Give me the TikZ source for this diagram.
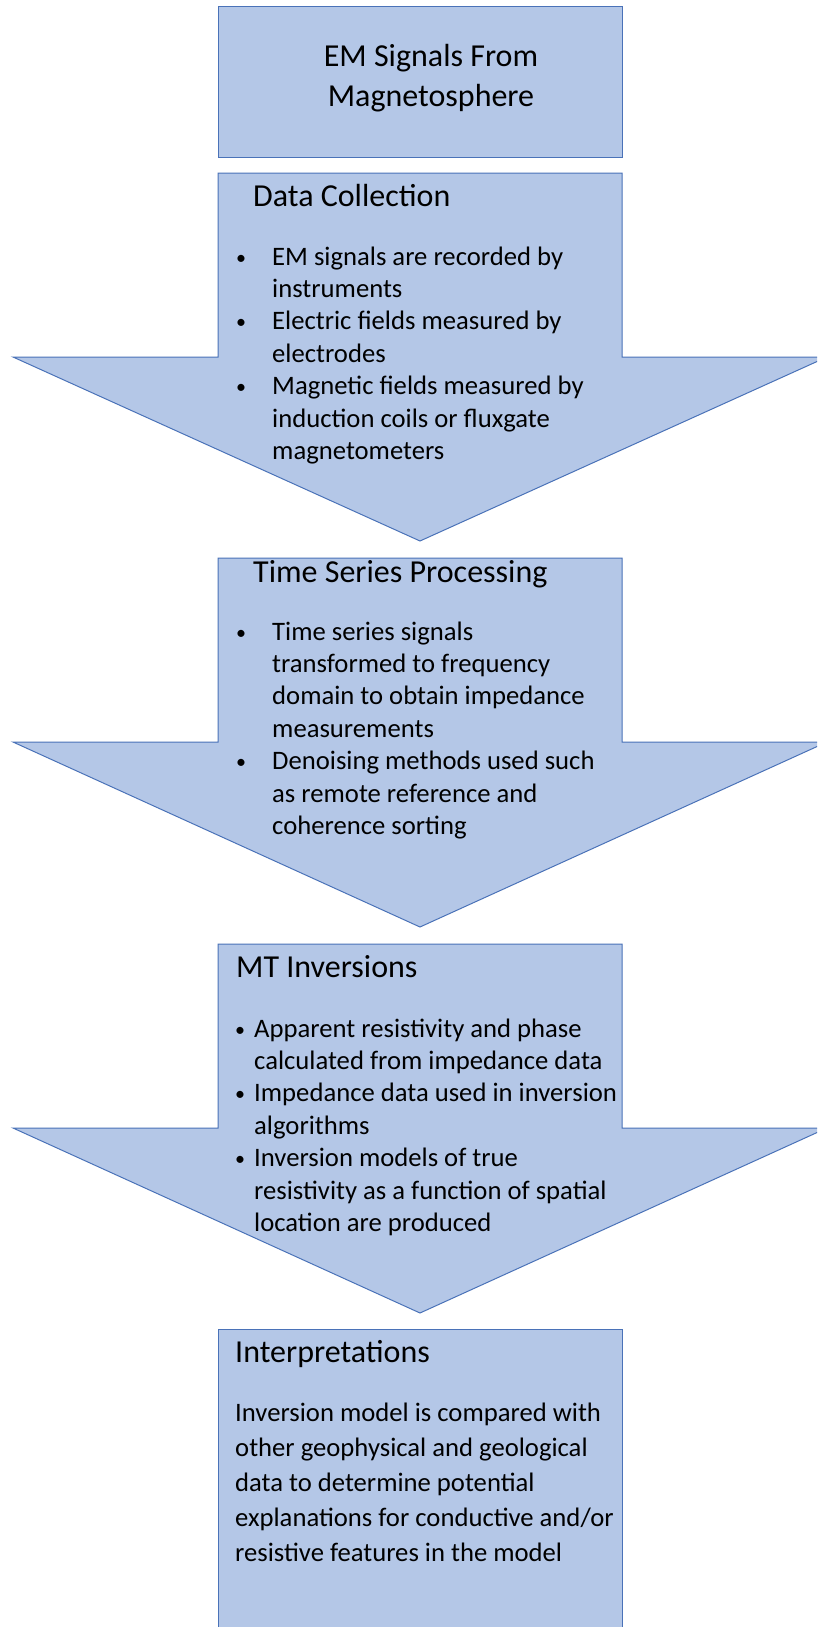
\documentclass[tikz,border=0pt]{standalone}
\usepackage{fontspec}
\setmainfont{Carlito}
\definecolor{boxfill}{HTML}{B4C7E7}
\definecolor{boxline}{HTML}{4A72B8}
\newlength\bulind
\newcommand\bitem[1]{\hbox{\makebox[\bulind][l]{\raisebox{1pt}{\fontsize{20}{20}\selectfont\textbullet}}#1}}
\newcommand\bcont[1]{\hbox{\hspace{\bulind}#1}}
\tikzset{
  shapebox/.style={fill=boxfill,draw=boxline,line width=1pt,line join=miter},
  titletext/.style={inner sep=0pt,anchor=base west,font=\fontsize{32}{39}\selectfont},
  bodytext/.style={inner sep=0pt,anchor=base west,font=\fontsize{26.67}{32.5}\selectfont},
}
\begin{document}
\begin{tikzpicture}[x=1pt,y=-1pt]
\useasboundingbox (0,0) rectangle (817,1627);
\clip (0,0) rectangle (817,1627);
\fill[white] (0,0) rectangle (817,1627);

% Box 1
\draw[shapebox] (218,7) rectangle (622,157);
\node[inner sep=0pt,anchor=base,font=\fontsize{32}{40}\selectfont] (t1) at (431,67)
  {\vtop{\baselineskip=40pt\halign{\hfil#\hfil\cr EM Signals From\cr Magnetosphere\cr}}};

% Arrow 1
\draw[shapebox] (218,173) -- (622,173) -- (622,357) -- (827,357) -- (420,541)
  -- (13,357) -- (218,357) -- cycle;
\node[titletext] (h2) at (253,206) {Data Collection};
\node[bodytext] (b2) at (236,265) {\setlength\bulind{36pt}\vtop{\baselineskip=32.4pt
  \bitem{EM signals are recorded by}
  \bcont{instruments}
  \bitem{Electric fields measured by}
  \bcont{electrodes}
  \bitem{Magnetic fields measured by}
  \bcont{induction coils or fluxgate}
  \bcont{magnetometers}}};

% Arrow 2
\draw[shapebox] (218,558) -- (622,558) -- (622,742) -- (827,742) -- (420,927)
  -- (13,742) -- (218,742) -- cycle;
\node[titletext] (h3) at (253,582) {Time Series Processing};
\node[bodytext] (b3) at (236,640) {\setlength\bulind{36pt}\vtop{\baselineskip=32.4pt
  \bitem{Time series signals}
  \bcont{transformed to frequency}
  \bcont{domain to obtain impedance}
  \bcont{measurements}
  \bitem{Denoising methods used such}
  \bcont{as remote reference and}
  \bcont{coherence sorting}}};

% Arrow 3
\draw[shapebox] (218,944) -- (622,944) -- (622,1128) -- (827,1128) -- (420,1313)
  -- (13,1128) -- (218,1128) -- cycle;
\node[titletext] (h4) at (236,977) {MT Inversions};
\node[bodytext] (b4) at (235,1037) {\setlength\bulind{19pt}\vtop{\baselineskip=32.4pt
  \bitem{Apparent resistivity and phase}
  \bcont{calculated from impedance data}
  \bitem{Impedance data used in inversion}
  \bcont{algorithms}
  \bitem{Inversion models of true}
  \bcont{resistivity as a function of spatial}
  \bcont{location are produced}}};

% Box 5
\draw[shapebox] (218,1329) rectangle (622,1660);
\node[titletext] (h5) at (235,1362) {Interpretations};
\node[bodytext] (b5) at (235,1421) {\vtop{\baselineskip=35pt
  \hbox{Inversion model is compared with}
  \hbox{other geophysical and geological}
  \hbox{data to determine potential}
  \hbox{explanations for conductive and/or}
  \hbox{resistive features in the model}}};
\end{tikzpicture}
\end{document}
